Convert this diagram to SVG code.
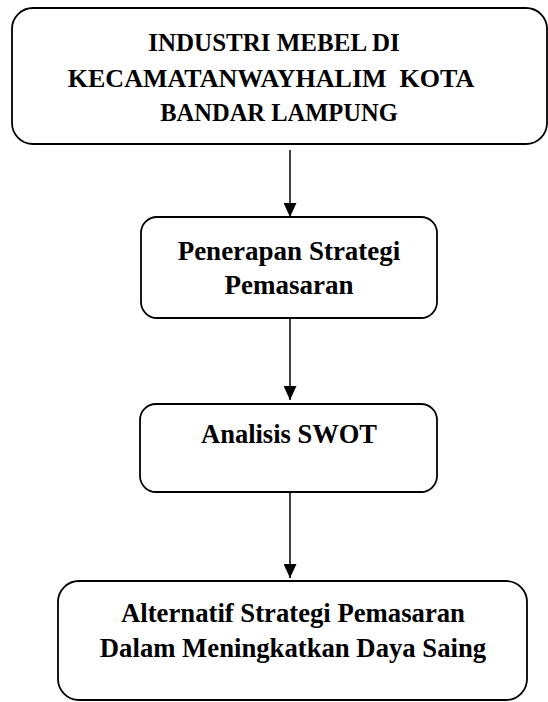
<svg xmlns="http://www.w3.org/2000/svg" width="548" height="702" viewBox="0 0 548 702">
<style>
.box{fill:#fff;stroke:#000;stroke-width:1.8}
.t{font-family:"Liberation Serif","Times New Roman",serif;font-weight:bold;fill:#000;text-anchor:middle}
.conn{stroke:#000;stroke-width:1.5;fill:none}
</style>
<defs>
<marker id="ah" viewBox="0 0 14 13" refX="14" refY="6.5" markerWidth="14" markerHeight="13" markerUnits="userSpaceOnUse" orient="auto">
<path d="M0,0 L14,6.5 L0,13 Z" fill="#000"/>
</marker>
</defs>
<rect width="548" height="702" fill="#fff"/>
<g id="n1">
<rect class="box" x="12" y="8" width="535" height="136" rx="21" ry="21"/>
<text class="t" font-size="25"><tspan x="274" y="51">INDUSTRI MEBEL DI</tspan><tspan x="271" y="87" font-size="26" xml:space="preserve">KECAMATANWAYHALIM  KOTA</tspan><tspan x="279" y="121" font-size="24.5">BANDAR LAMPUNG</tspan></text>
</g>
<g id="n2">
<rect class="box" x="141" y="217" width="296" height="101" rx="16" ry="16"/>
<text class="t" font-size="27"><tspan x="289" y="260">Penerapan Strategi</tspan><tspan x="289" y="294">Pemasaran</tspan></text>
</g>
<g id="n3">
<rect class="box" x="140" y="404" width="297" height="88" rx="16" ry="16"/>
<text class="t" font-size="26.5" x="289" y="443">Analisis SWOT</text>
</g>
<g id="n4">
<rect class="box" x="58" y="581" width="469" height="119" rx="21" ry="21"/>
<text class="t" font-size="26.7"><tspan x="293" y="622">Alternatif Strategi Pemasaran</tspan><tspan x="293" y="657">Dalam Meningkatkan Daya Saing</tspan></text>
</g>
<g id="connectors">
<line class="conn" x1="290" y1="150" x2="290" y2="217" marker-end="url(#ah)"/>
<line class="conn" x1="290" y1="318" x2="290" y2="400" marker-end="url(#ah)"/>
<line class="conn" x1="290" y1="492" x2="290" y2="578" marker-end="url(#ah)"/>
</g>
</svg>
